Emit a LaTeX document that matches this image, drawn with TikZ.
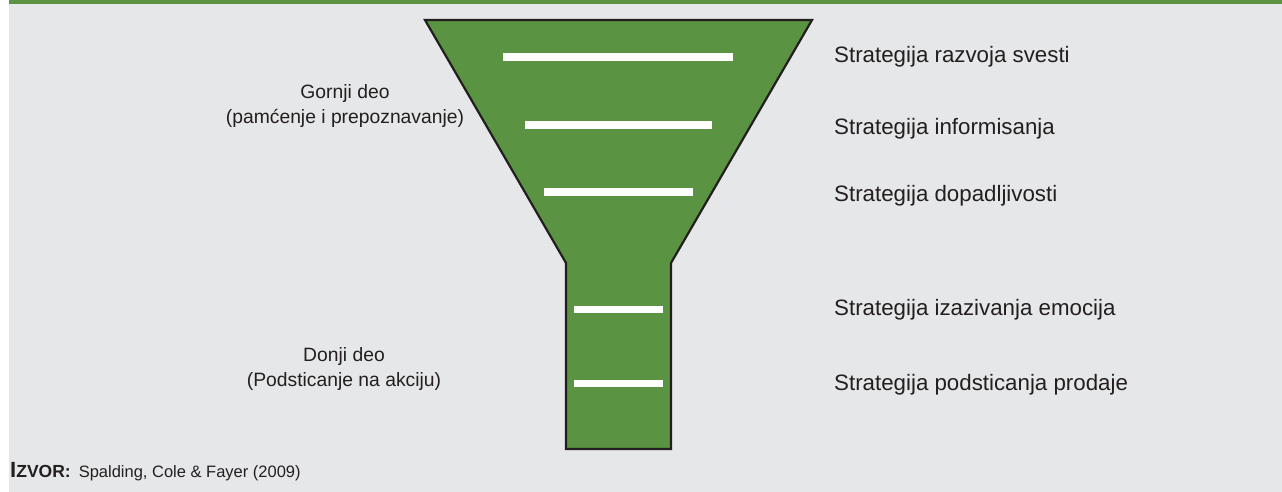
\documentclass[tikz,border=0pt]{standalone}
\usepackage{fontspec}
\setmainfont{Liberation Sans}
\definecolor{funnelgreen}{RGB}{90,147,65}
\definecolor{panelgrey}{RGB}{230,231,232}
\definecolor{inkdark}{RGB}{35,31,32}
\tikzset{
  levelbar/.style={fill=white, draw=none, inner sep=0pt, minimum height=8pt},
  sidelabel/.style={text=inkdark, font=\fontsize{19.3}{25.5}\selectfont, inner sep=0pt, align=center},
  stratlabel/.style={text=inkdark, font=\fontsize{22.3}{24}\selectfont, inner sep=0pt, anchor=west},
}
\begin{document}
\begin{tikzpicture}[x=1pt,y=-1pt]
  \useasboundingbox (0,0) rectangle (1282,492);
  % panel and header rule
  \fill[panelgrey] (9,0) rectangle (1282,492);
  \fill[funnelgreen] (9,0) rectangle (1282,4.5);
  % funnel outline
  \draw[fill=funnelgreen, draw=inkdark, line width=2.2pt, line join=miter]
    (425,20) -- (812,20) -- (671,263) -- (671,449) -- (566,449) -- (566,263) -- cycle;
  % level bars inside the funnel
  \node[levelbar, minimum width=230pt] (b1) at (618,57) {};
  \node[levelbar, minimum width=187pt] (b2) at (618.5,125) {};
  \node[levelbar, minimum width=149pt] (b3) at (618.5,192) {};
  \node[levelbar, minimum width=89pt, minimum height=7pt] (b4) at (618.5,309.5) {};
  \node[levelbar, minimum width=89pt, minimum height=7pt] (b5) at (618.5,383.5) {};
  % strategy labels
  \node[stratlabel] (s1) at (834,56.5) {Strategija razvoja svesti};
  \node[stratlabel] (s2) at (834,128.5) {Strategija informisanja};
  \node[stratlabel] (s3) at (834,195.5) {Strategija dopadljivosti};
  \node[stratlabel] (s4) at (834,309.5) {Strategija izazivanja emocija};
  \node[stratlabel] (s5) at (834,384.5) {Strategija podsticanja prodaje};
  % section labels
  \node[sidelabel] (top) at (345,106) {Gornji deo\\(pamćenje i prepoznavanje)};
  \node[sidelabel] (bottom) at (344,369) {Donji deo\\(Podsticanje na akciju)};
  % source line
  \node[anchor=base west, inner sep=0pt, text=inkdark] (src) at (10,477)
    {\bfseries\fontsize{22}{24}\selectfont I\fontsize{17.5}{20}\selectfont ZVOR:\hspace{8pt}\mdseries\fontsize{16.5}{20}\selectfont Spalding, Cole \& Fayer (2009)};
\end{tikzpicture}
\end{document}
